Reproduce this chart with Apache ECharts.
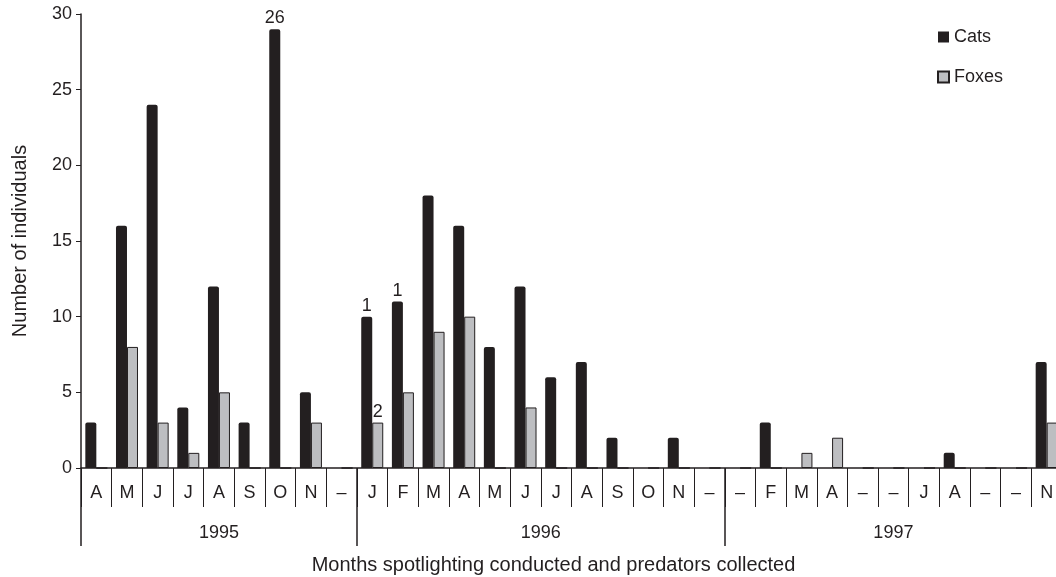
<!DOCTYPE html>
<html>
<head>
<meta charset="utf-8">
<script src="https://cdn.jsdelivr.net/npm/echarts@6/dist/echarts.min.js"></script>
<style>
  html, body { margin: 0; padding: 0; background: #fff; }
  #chart { width: 1056px; height: 577px; }
</style>
</head>
<body>
<div id="chart"></div>
<script>
// months, 1995 (9) + 1996 (12) + 1997 (11)
var months = ['A', 'M', 'J', 'J', 'A', 'S', 'O', 'N', '–',
              'J', 'F', 'M', 'A', 'M', 'J', 'J', 'A', 'S', 'O', 'N', '–',
              '–', 'F', 'M', 'A', '–', '–', 'J', 'A', '–', '–', 'N'];
var cats   = [3, 16, 24, 4, 12, 3, 29, 5, 0,
              10, 11, 18, 16, 8, 12, 6, 7, 2, 0, 2, 0,
              0, 3, 0, 0, 0, 0, 0, 1, 0, 0, 7];
var foxes  = [0, 8, 3, 1, 5, 0, 0, 3, 0,
              3, 5, 9, 10, 0, 4, 0, 0, 0, 0, 0, 0,
              0, 0, 1, 2, 0, 0, 0, 0, 0, 0, 3];
// numbers printed above some bars (index -> text)
var catNotes = { 6: '26', 9: '1', 10: '1' };
var foxNotes = { 9: '2' };
var years = ['1995', '1996', '1997'];
var yearBounds = [0, 9, 21, 32];

var font = "'Liberation Sans', Arial, sans-serif";
var ink = '#231f20';

function withNotes(values, notes) {
    return values.map(function (v, i) {
        if (notes[i] === undefined) return v;
        return {
            value: v,
            label: { show: true, position: 'top', distance: 2, formatter: notes[i] }
        };
    });
}

var yearCenters = [];
for (var i = 0; i < years.length; i++) {
    yearCenters.push((yearBounds[i] + yearBounds[i + 1]) / 2);
}

var option = {
    animation: false,
    textStyle: { fontFamily: font, color: ink },
    grid: { left: 81, top: 14, height: 454, width: 981, outerBoundsMode: 'none', containLabel: false },
    legend: {
        data: ['Cats', 'Foxes'],
        orient: 'vertical',
        left: 937,
        top: 28,
        padding: 0,
        itemWidth: 11,
        itemHeight: 11,
        itemGap: 22,
        icon: 'rect',
        textStyle: { fontFamily: font, fontSize: 18, color: ink }
    },
    xAxis: [{
        type: 'category',
        data: months,
        position: 'bottom',
        axisLine: { lineStyle: { color: ink, width: 1.5 } },
        axisTick: { show: true, interval: 0, alignWithLabel: false, length: 39, lineStyle: { color: ink, width: 1 } },
        axisLabel: { interval: 0, margin: 16, fontSize: 18, color: ink, fontFamily: font }
    }, {
        type: 'value',
        min: 0,
        max: 32,
        position: 'bottom',
        axisLine: { show: false },
        splitLine: { show: false },
        axisTick: { show: true, customValues: yearBounds, length: 78, lineStyle: { color: ink, width: 1.5 } },
        axisLabel: {
            customValues: yearCenters,
            margin: 56,
            fontSize: 18,
            color: ink,
            fontFamily: font,
            formatter: function (v) { return years[yearCenters.indexOf(v)]; }
        },
        name: 'Months spotlighting conducted and predators collected',
        nameLocation: 'middle',
        nameGap: 87,
        nameTextStyle: { fontSize: 20, color: ink, fontFamily: font, padding: [0, 36, 0, 0] }
    }],
    yAxis: {
        type: 'value',
        min: 0,
        max: 30,
        interval: 5,
        splitLine: { show: false },
        axisLine: { show: true, lineStyle: { color: ink, width: 1.5 } },
        axisTick: { show: true, length: 5, lineStyle: { color: ink } },
        axisLabel: { margin: 9, fontSize: 18, color: ink, fontFamily: font },
        name: 'Number of individuals',
        nameLocation: 'middle',
        nameGap: 51,
        nameTextStyle: { fontSize: 20, color: ink, fontFamily: font }
    },
    series: [{
        name: 'Cats',
        type: 'bar',
        barWidth: 11,
        barGap: '0%',
        itemStyle: { color: ink, borderRadius: [2, 2, 0, 0] },
        label: { fontSize: 18, color: ink, fontFamily: font },
        data: withNotes(cats, catNotes)
    }, {
        name: 'Foxes',
        type: 'bar',
        barWidth: 11,
        barGap: '0%',
        itemStyle: { color: '#bdbec1', borderColor: ink, borderWidth: 1 },
        label: { fontSize: 18, color: ink, fontFamily: font },
        data: withNotes(foxes, foxNotes)
    }]
};

var myChart = echarts.init(document.getElementById('chart'));
myChart.setOption(option);
</script>
</body>
</html>
